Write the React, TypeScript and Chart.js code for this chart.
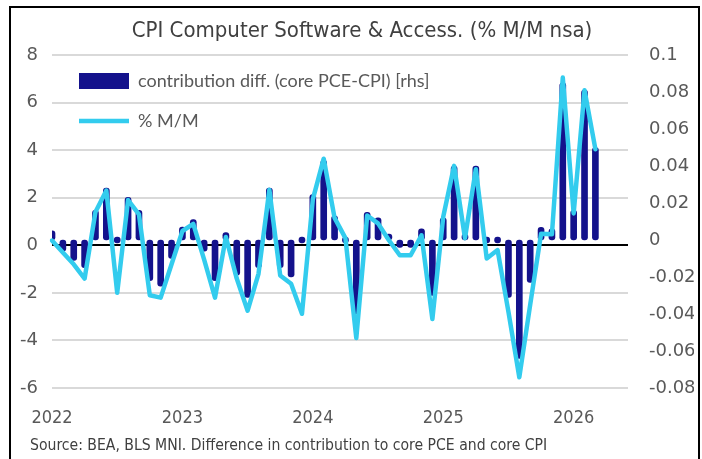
import { useEffect, useRef } from "react";
import { Chart, registerables } from "chart.js";

Chart.register(...registerables);

// ---- data ----
const categories = [
  "2022-01", "2022-02", "2022-03", "2022-04", "2022-05", "2022-06", "2022-07", "2022-08", "2022-09", "2022-10", "2022-11", "2022-12",
  "2023-01", "2023-02", "2023-03", "2023-04", "2023-05", "2023-06", "2023-07", "2023-08", "2023-09", "2023-10", "2023-11", "2023-12",
  "2024-01", "2024-02", "2024-03", "2024-04", "2024-05", "2024-06", "2024-07", "2024-08", "2024-09", "2024-10", "2024-11", "2024-12",
  "2025-01", "2025-02", "2025-03", "2025-04", "2025-05", "2025-06", "2025-07", "2025-08", "2025-09", "2025-10", "2025-11", "2025-12",
  "2026-01", "2026-02", "2026-03", "2026-04", "2026-05", "2026-06",
];

const yearTicks = ["2022", "2023", "2024", "2025", "2026"];

// % M/M (left axis)
const momPct = [
  0.2, -0.3, -0.8, -1.4, 1.4, 2.3, -2.0, 1.9, 1.3, -2.1, -2.2, -0.8,
  0.6, 0.9, -0.6, -2.2, 0.35, -1.4, -2.75, -1.2, 2.33, -1.27, -1.62, -2.88,
  1.93, 3.64, 1.15, 0.3, -3.9, 1.25, 0.92, 0.21, -0.42, -0.42, 0.42, -3.1,
  1.2, 3.34, 0.3, 3.2, -0.56, -0.2, -2.8, -5.55, -2.5, 0.48, 0.46, 7.05,
  1.34, 6.52, 4.04,
];

// contribution diff. (core PCE-CPI), right axis
const contribDiff = [
  0.005, -0.006, -0.011, -0.015, 0.016, 0.028, 0, 0.023, 0.016, -0.022, -0.025, -0.01,
  0.007, 0.011, -0.006, -0.022, 0.004, -0.019, -0.031, -0.015, 0.028, -0.015, -0.02, 0,
  0.0245, 0.043, 0.013, 0, -0.04, 0.015, 0.012, 0.002, -0.004, -0.004, 0.006, -0.03,
  0.012, 0.04, 0.002, 0.04, 0, 0, -0.031, -0.064, -0.023, 0.0068, 0.006, 0.085,
  0.016, 0.081, 0.05,
];

const TITLE = "CPI Computer Software & Access. (% M/M nsa)";
const SOURCE = "Source: BEA, BLS MNI. Difference in contribution to core PCE and core CPI";
const BAR_LABEL = "contribution diff. (core PCE-CPI) [rhs]";
const LINE_LABEL = "% M/M";

const NARROW = "'DejaVu Sans Condensed', 'Liberation Sans Narrow', sans-serif";
const TICKFONT = "'DejaVu Sans', sans-serif";
const LEGENDFONT = "Lato, 'Noto Sans', sans-serif";

const NAVY = "#14128C";
const CYAN = "#33CCEE";
const GRAY = "#595959";

const layoutTweaks = {
  id: "layoutTweaks",
  afterLayout(chart: any) {
    const lg = chart.legend;
    if (lg) {
      lg.left = chart.chartArea.left + 5;
      lg.top = chart.chartArea.top - 5;
    }
    // let the left tick labels use the space left of the axis box
    const ys = chart.scales.y;
    if (ys) ys.left = 0;
  },
};

export default function App() {
  const ref = useRef<HTMLCanvasElement | null>(null);

  useEffect(() => {
    if (!ref.current) return;
    const chart = new Chart(ref.current, {
      type: "bar",
      data: {
        labels: categories,
        datasets: [
          {
            type: "line",
            label: LINE_LABEL,
            data: momPct,
            yAxisID: "y",
            borderColor: CYAN,
            backgroundColor: CYAN,
            borderWidth: 4.5,
            pointRadius: 0,
            pointHoverRadius: 0,
            pointBorderWidth: 4.5,
            pointStyle: "line",
            tension: 0,
            borderCapStyle: "round",
            borderJoinStyle: "round",
            fill: false,
          } as any,
          {
            type: "bar",
            label: BAR_LABEL,
            data: contribDiff,
            yAxisID: "y1",
            backgroundColor: NAVY,
            borderWidth: 0,
            barThickness: 6,
            borderRadius: 3,
            borderSkipped: false,
            minBarLength: 6,
            pointStyle: "rect",
            clip: { left: 0, right: 0, top: 10, bottom: 10 },
          } as any,
        ],
      },
      options: {
        responsive: false,
        animation: false,
        events: [],
        layout: { padding: { left: 30, right: 8, top: 0, bottom: 0 } },
        scales: {
          x: {
            type: "category",
            offset: false,
            grid: { display: false },
            border: { display: false },
            ticks: {
              autoSkip: false,
              maxRotation: 0,
              minRotation: 0,
              padding: 12,
              color: GRAY,
              font: { family: NARROW, size: 18 },
              callback: (_v: any, i: number) => {
                const c = categories[i];
                const y = c.slice(0, 4);
                return c.endsWith("-01") && yearTicks.includes(y) ? y : "";
              },
            },
            afterFit: (s: any) => {
              s.height = 40;
              s.paddingLeft = 0;
              s.paddingRight = 0;
            },
          },
          y: {
            position: "left",
            min: -6,
            max: 8,
            border: { display: false },
            grid: {
              drawTicks: false,
              lineWidth: 2,
              color: (ctx: any) => (ctx.tick && ctx.tick.value === 0 ? "#000000" : "#D9D9D9"),
            },
            ticks: {
              stepSize: 2,
              padding: 14,
              color: GRAY,
              font: { family: TICKFONT, size: 18 },
              callback: (v: any) => String(v),
            },
            afterFit: (s: any) => {
              s.width = 22;
            },
          },
          y1: {
            position: "right",
            min: -0.08,
            max: 0.1,
            border: { display: false },
            grid: { display: false, drawTicks: false },
            ticks: {
              stepSize: 0.02,
              padding: 21,
              color: GRAY,
              font: { family: TICKFONT, size: 18 },
              callback: (v: any) => String(Number(Number(v).toFixed(2))),
            },
            afterFit: (s: any) => {
              s.width = 66;
            },
          },
        },
        plugins: {
          tooltip: { enabled: false },
          title: {
            display: true,
            text: TITLE,
            color: "#404040",
            font: { family: NARROW, size: 22, weight: "normal", lineHeight: 1.2 },
            padding: { top: 17.8, bottom: 10.8 },
          },
          subtitle: {
            display: true,
            position: "bottom",
            align: "start",
            text: SOURCE,
            color: "#404040",
            font: { family: NARROW, size: 15.6, weight: "normal", lineHeight: 1.2 },
            padding: { top: 8.5, bottom: 3.8 },
          },
          legend: {
            display: true,
            position: "chartArea",
            align: "start",
            labels: {
              usePointStyle: true,
              pointStyleWidth: 50,
              boxHeight: 16,
              padding: 22,
              color: GRAY,
              font: { family: LEGENDFONT, size: 18 },
              sort: (a: any, b: any) => b.datasetIndex - a.datasetIndex,
            },
          },
        },
      } as any,
      plugins: [layoutTweaks],
    });
    return () => chart.destroy();
  }, []);

  return (
    <div style={{ position: "fixed", left: 0, top: 0, width: 702, height: 459, background: "#ffffff", overflow: "hidden" }}>
      <div
        style={{
          position: "absolute",
          left: 9,
          top: 6,
          width: 691,
          height: 480,
          boxSizing: "border-box",
          border: "2px solid #000000",
        }}
      />
      <canvas ref={ref} width={702} height={459} style={{ position: "absolute", left: 0, top: 0, display: "block" }} />
    </div>
  );
}
